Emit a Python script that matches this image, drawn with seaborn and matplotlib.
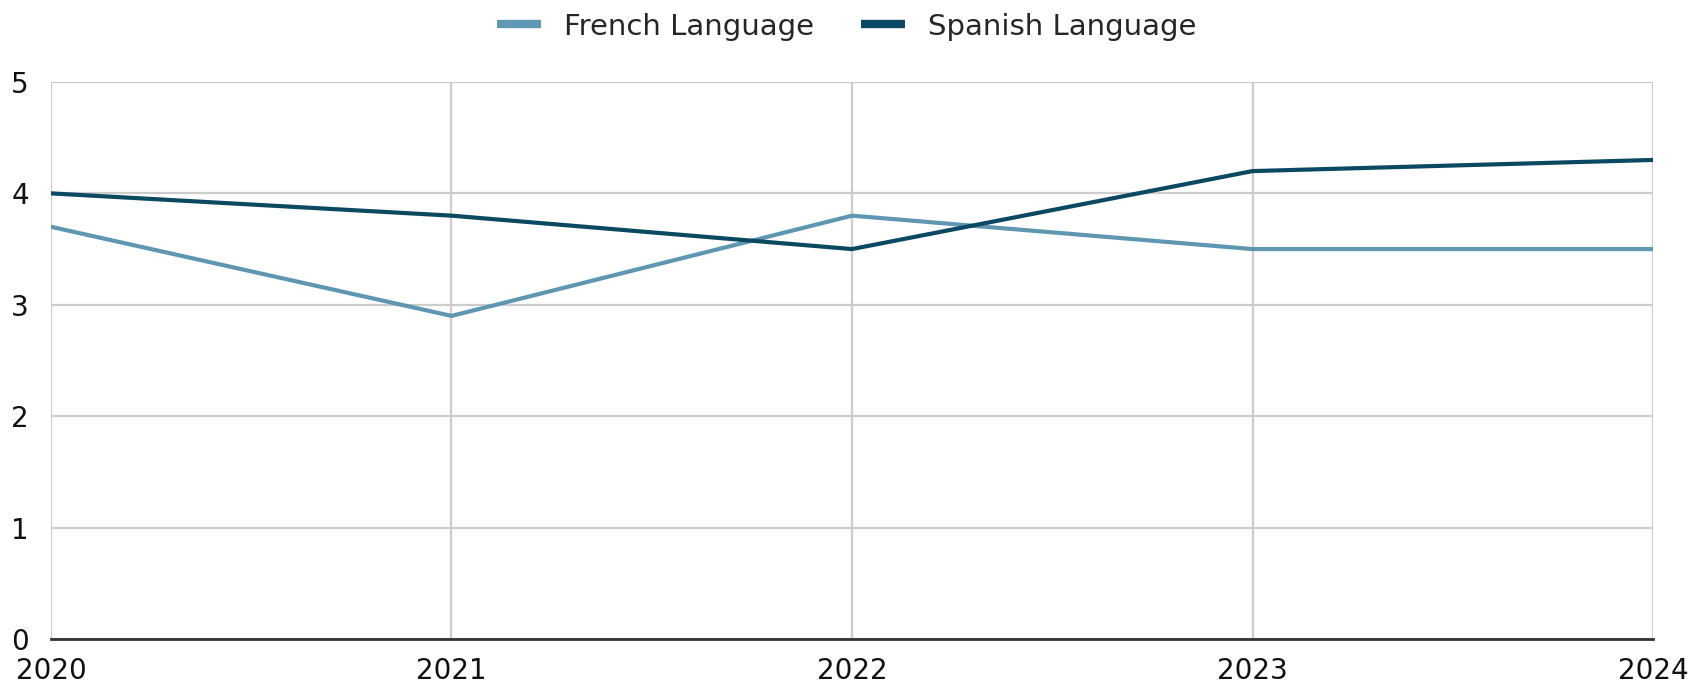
import pandas as pd
import seaborn as sns
import matplotlib.pyplot as plt

# data
years = [2020, 2021, 2022, 2023, 2024]
french = [3.7, 2.9, 3.8, 3.5, 3.5]
spanish = [4.0, 3.8, 3.5, 4.2, 4.3]

df = pd.DataFrame({
    "Year": years * 2,
    "Value": french + spanish,
    "Series": ["French Language"] * len(years) + ["Spanish Language"] * len(years),
})

sns.set_style("white")
plt.rcParams['font.family'] = ['DejaVu Sans']

fig = plt.figure(figsize=(16.94, 6.83), dpi=100)
ax = fig.add_axes([0.0301, 0.0644, 0.9457, 0.8156])

palette = {"French Language": "#5f96b2", "Spanish Language": "#0b4862"}
sns.lineplot(data=df, x="Year", y="Value", hue="Series", palette=palette,
             linewidth=3.0, ax=ax, legend=False)

ax.set_xlim(2020, 2024)
ax.set_ylim(0, 5)
ax.set_xticks(years)
ax.set_yticks(range(6))
ax.grid(True, color="#cccccc", linewidth=1.6)
ax.set_axisbelow(True)
for s in ["top", "right", "left"]:
    ax.spines[s].set_visible(False)
ax.spines["bottom"].set_color("#333333")
ax.spines["bottom"].set_linewidth(2)
ax.tick_params(axis="both", length=0, labelsize=20, colors="#111111")
ax.tick_params(axis="x", pad=13)
ax.tick_params(axis="y", pad=16)
ax.set_xlabel("")
ax.set_ylabel("")

handles = [plt.Line2D([], [], color=palette[k], linewidth=6, solid_capstyle="butt")
           for k in palette]
fig.legend(handles, list(palette.keys()), loc="upper center", ncol=2,
           bbox_to_anchor=(0.5, 1.02), frameon=False, fontsize=21,
           handlelength=1.5, columnspacing=1.6, handletextpad=0.8)

fig.savefig("out.png", dpi=100)
